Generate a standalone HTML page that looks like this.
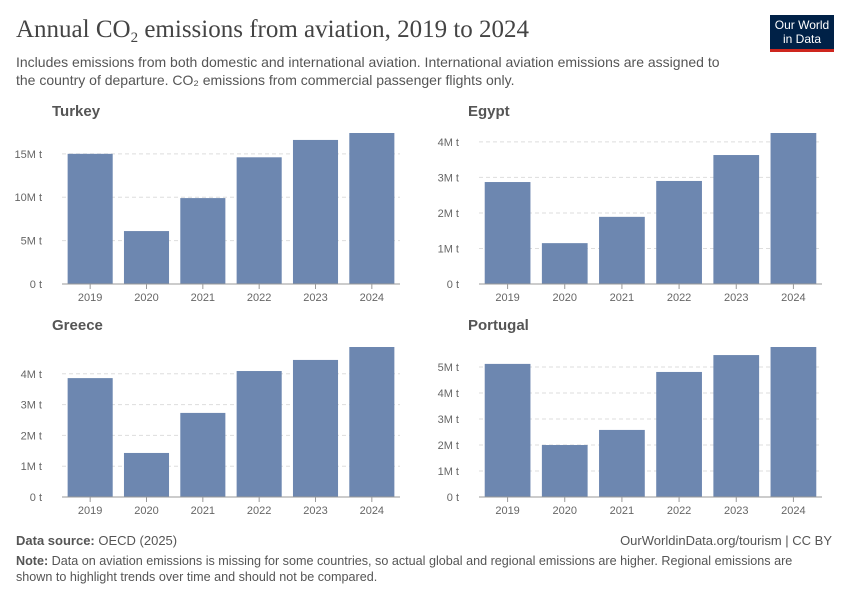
<!DOCTYPE html>
<html><head><meta charset="utf-8">
<style>
body{margin:0;background:#fff;font-family:"Liberation Sans",sans-serif;}
#wrap{position:relative;width:850px;height:600px;overflow:hidden;}
.t{position:absolute;white-space:nowrap;}
</style></head><body>
<div id="wrap">
<div class="t" style="left:16px;top:16px;font-family:'Liberation Serif',serif;font-size:25px;color:#444;">Annual CO<span style="font-size:15px;position:relative;top:5px">2</span> emissions from aviation, 2019 to 2024</div>
<div class="t" style="left:16px;top:53px;font-size:14px;color:#555;line-height:18px;white-space:normal;width:722px;">Includes emissions from both domestic and international aviation. International aviation emissions are assigned to the country of departure. CO₂ emissions from commercial passenger flights only.</div>
<div style="position:absolute;left:770px;top:15px;width:64px;height:37px;background:#002147;border-bottom:3px solid #ce261e;color:#fff;font-size:12px;text-align:center;line-height:14px;padding-top:3px;box-sizing:border-box;">Our World<br>in Data</div>
<svg id="svg" width="850" height="600" style="position:absolute;left:0;top:0"></svg>
<div class="t" style="left:16px;top:533px;font-size:13px;color:#555;"><b>Data source:</b> OECD (2025)</div>
<div class="t" style="right:18px;top:533px;font-size:13px;color:#555;">OurWorldinData.org/tourism | CC BY</div>
<div class="t" style="left:16px;top:553px;font-size:12.6px;color:#555;line-height:16px;white-space:normal;width:790px;"><b>Note:</b> Data on aviation emissions is missing for some countries, so actual global and regional emissions are higher. Regional emissions are shown to highlight trends over time and should not be compared.</div>
</div>
<script>
const years=["2019","2020","2021","2022","2023","2024"];
const turkey=[15.0,6.1,9.9,14.6,16.6,17.4];
const egypt=[2.87,1.15,1.89,2.9,3.63,4.25];
const greece=[3.86,1.43,2.73,4.09,4.45,4.87];
const portugal=[5.12,2.0,2.58,4.81,5.46,5.77];
const turkeyTicks=[0,5,10,15];
const egyptTicks=[0,1,2,3,4];
const greeceTicks=[0,1,2,3,4];
const portugalTicks=[0,1,2,3,4,5];
const panels=[
 {name:"Turkey",vals:turkey,ticks:turkeyTicks,max:17.4,x0:62,x1:400,top:133,bottom:284,tx:52,ty:100},
 {name:"Egypt",vals:egypt,ticks:egyptTicks,max:4.25,x0:479,x1:822,top:133,bottom:284,tx:468,ty:100},
 {name:"Greece",vals:greece,ticks:greeceTicks,max:4.87,x0:62,x1:400,top:347,bottom:497,tx:52,ty:314},
 {name:"Portugal",vals:portugal,ticks:portugalTicks,max:5.77,x0:479,x1:822,top:347,bottom:497,tx:468,ty:314}
];
const svg=document.getElementById('svg');
const NS="http://www.w3.org/2000/svg";
function mk(tag,attrs,parent){const e=document.createElementNS(NS,tag);for(const k in attrs)e.setAttribute(k,attrs[k]);(parent||svg).appendChild(e);return e;}
panels.forEach(p=>{
 const g=mk('g',{});
 
 
 const y=v=>p.bottom-(v/p.max)*(p.bottom-p.top);
 const t=mk('text',{x:p.tx,y:p.ty+16,'font-size':15,'font-weight':'bold',fill:'#555','font-family':'Liberation Sans'},g);
 t.textContent=p.name;
 
 
 p.ticks.forEach(v=>{
  const yy=y(v);
  if(v>0){const l=mk('line',{x1:p.x0,x2:p.x1,y1:yy,y2:yy,stroke:'#ddd','stroke-dasharray':'4,3'},g);
   }
  const tl=mk('text',{x:p.x0-20,y:yy+4,'font-size':11,fill:'#666','text-anchor':'end','font-family':'Liberation Sans'},g);
  tl.textContent=v===0?'0 t':v+'M t';
  
 });
 const n=years.length,step=(p.x1-p.x0)/n,bw=step*0.8;
 p.vals.forEach((v,i)=>{
  const cx=p.x0+step*(i+0.5);
  const r=mk('rect',{x:cx-bw/2,y:y(v),width:bw,height:p.bottom-y(v),fill:'#6d87b0'},g);
  
  
  const tk=mk('line',{x1:cx,x2:cx,y1:p.bottom,y2:p.bottom+5,stroke:'#999'},g);
  
  const xl=mk('text',{x:cx,y:p.bottom+17,'font-size':11,fill:'#666','text-anchor':'middle','font-family':'Liberation Sans'},g);
  xl.textContent=years[i];
  
 });
 const ax=mk('line',{x1:p.x0,x2:p.x1,y1:p.bottom,y2:p.bottom,stroke:'#999'},g);
 
});
</script>
</body></html>
